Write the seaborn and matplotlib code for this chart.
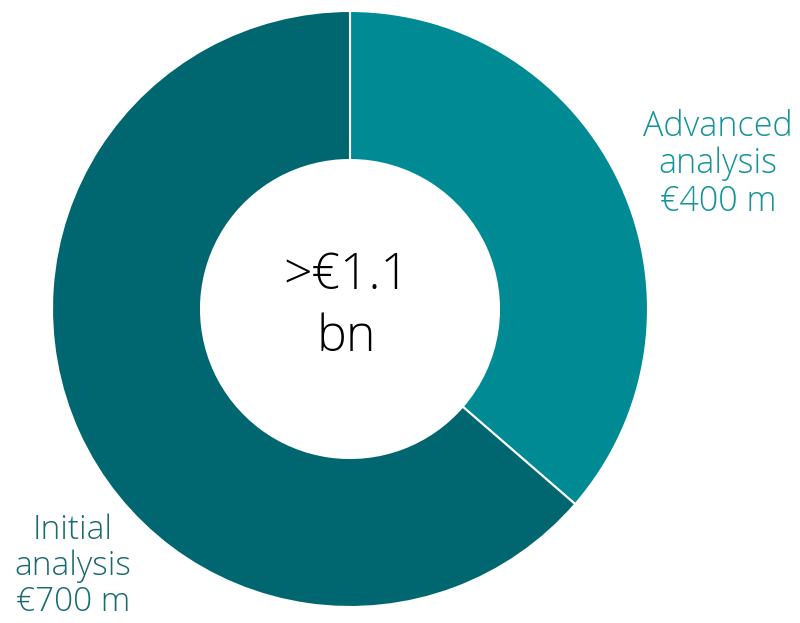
import matplotlib
matplotlib.use("Agg")
import matplotlib.pyplot as plt
import seaborn as sns

segments = ["Advanced analysis", "Initial analysis"]
values = [400, 700]
labels = ["Advanced\nanalysis\n€400 m", "Initial\nanalysis\n€700 m"]
colors = ["#008a94", "#00666f"]
text_colors = ["#14939a", "#1a6a71"]
total_label = ">€1.1\nbn"

sns.set_theme(style="white")
plt.rcParams["font.family"] = ["Open Sans", "DejaVu Sans"]

fig = plt.figure(figsize=(8, 6.23), dpi=100)
ax = fig.add_axes([0, 0, 1, 1])

cx, cy, r = 350, 314, 298
ax.pie(values, colors=colors, startangle=90, counterclock=False,
       center=(cx, cy), radius=r, frame=True,
       wedgeprops=dict(width=r * 0.5, edgecolor="white", linewidth=1.5))
ax.set_xlim(0, 800)
ax.set_ylim(0, 623)
ax.set_aspect("equal")
ax.axis("off")

ax.text(cx - 4, cy + 2, total_label, ha="center", va="center", fontsize=36,
        fontweight="light", color="black", linespacing=1.3)
ax.text(718, 459, labels[0], ha="center", va="center", fontsize=24.5,
        fontweight="light", color=text_colors[0], linespacing=1.12)
ax.text(73, 57, labels[1], ha="center", va="center", fontsize=24,
        fontweight="light", color=text_colors[1], linespacing=1.1)

fig.savefig("out.png", dpi=100, facecolor="white")
